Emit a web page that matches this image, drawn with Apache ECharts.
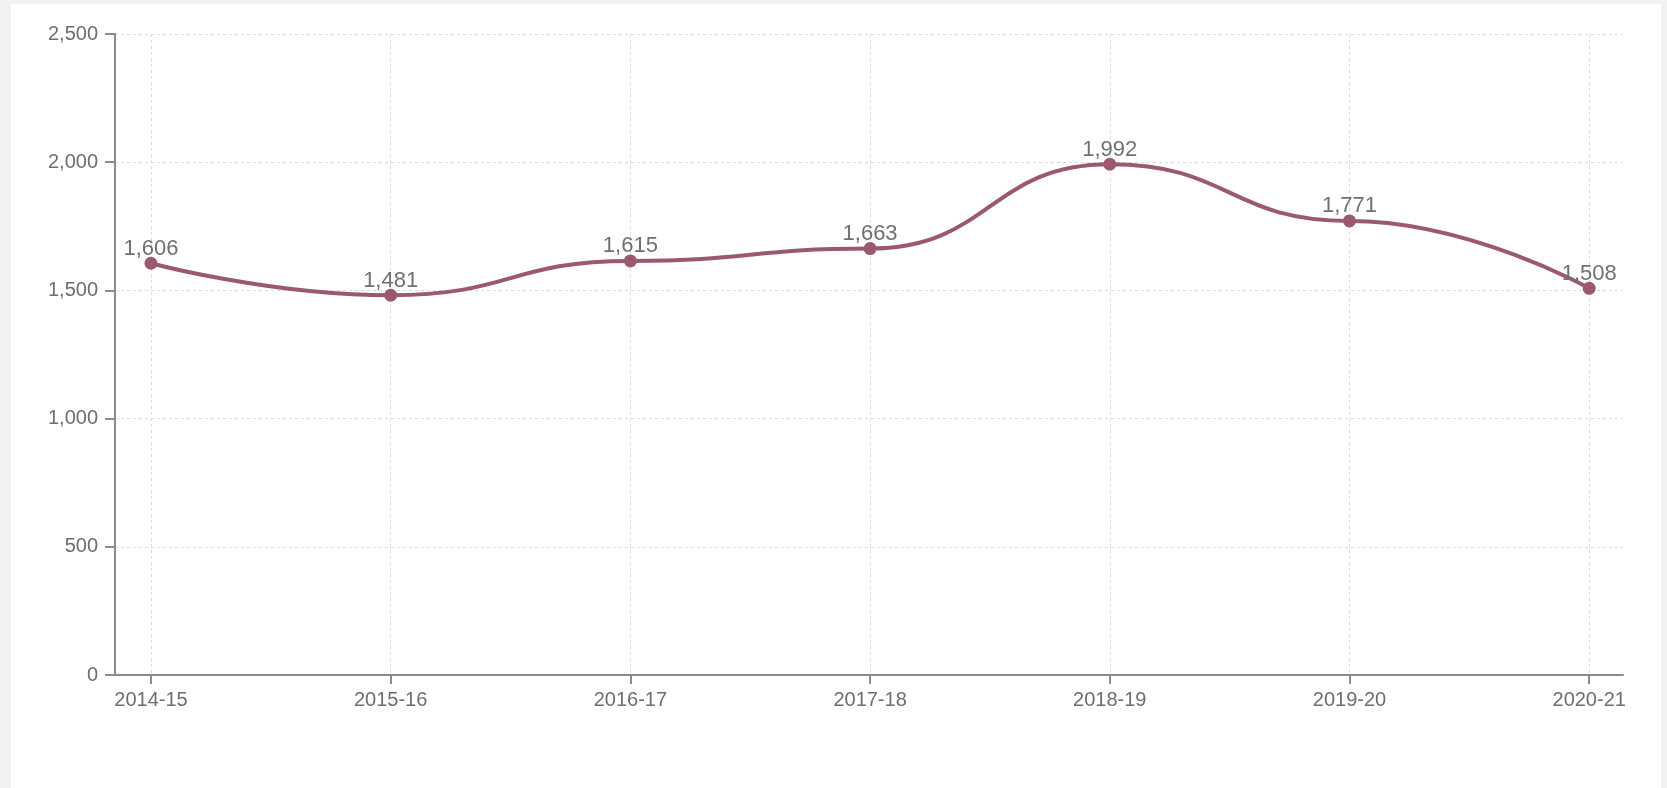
<!DOCTYPE html>
<html>
<head>
<meta charset="utf-8">
<script src="https://cdn.jsdelivr.net/npm/echarts@6/dist/echarts.min.js"></script>
<style>
  html, body { margin: 0; padding: 0; background: #f2f2f2; width: 1667px; height: 788px; overflow: hidden; }
  #card { position: absolute; left: 11px; top: 4px; width: 1650px; height: 784px; background: #fff; }
  #chart { position: absolute; left: 0; top: 0; width: 1667px; height: 788px; }
</style>
</head>
<body>
<div id="card"></div>
<div id="chart"></div>
<script>
const categories = ['2014-15', '2015-16', '2016-17', '2017-18', '2018-19', '2019-20', '2020-21'];
const values = [1606, 1481, 1615, 1663, 1992, 1771, 1508];
const yTicks = [0, 500, 1000, 1500, 2000, 2500];

const idx = categories.map((c, i) => i);
const seriesData = values.map((v, i) => [i, v]);

const chart = echarts.init(document.getElementById('chart'), null, { renderer: 'canvas' });
const fontFamily = '"Liberation Sans", Arial, Helvetica, sans-serif';
chart.setOption({
  animation: false,
  grid: { left: 115, right: 44, top: 34, bottom: 113 },
  xAxis: {
    type: 'value',
    min: -0.15,
    max: 6.141,
    axisLine: { show: true, onZero: false, lineStyle: { color: '#8c8c8c', width: 2 } },
    axisTick: { show: true, customValues: idx, length: 9, lineStyle: { color: '#8c8c8c', width: 2 } },
    axisLabel: {
      customValues: idx,
      formatter: v => categories[Math.round(v)] || '',
      color: '#6e6e6e', fontSize: 20, fontFamily: fontFamily, margin: 15
    },
    splitLine: { show: true, lineStyle: { color: '#dcdcdc', type: [3, 3], width: 1 } }
  },
  yAxis: {
    type: 'value',
    min: yTicks[0],
    max: yTicks[yTicks.length - 1],
    interval: 500,
    axisLine: { show: true, onZero: false, lineStyle: { color: '#8c8c8c', width: 2 } },
    axisTick: { show: true, length: 10, lineStyle: { color: '#8c8c8c', width: 2 } },
    axisLabel: {
      formatter: v => v.toLocaleString('en-US'),
      color: '#6e6e6e', fontSize: 20, fontFamily: fontFamily, margin: 17
    },
    splitLine: { show: true, lineStyle: { color: '#dcdcdc', type: [3, 3], width: 1 } }
  },
  series: [{
    type: 'line',
    data: seriesData,
    smooth: 0.5,
    smoothMonotone: 'x',
    symbol: 'circle',
    symbolSize: 13,
    lineStyle: { color: '#9a596e', width: 4 },
    itemStyle: { color: '#9a596e' },
    label: {
      show: true,
      position: 'top',
      distance: -3,
      formatter: p => p.value[1].toLocaleString('en-US'),
      color: '#707070', fontSize: 22, fontFamily: fontFamily
    }
  }]
});
</script>
</body>
</html>
